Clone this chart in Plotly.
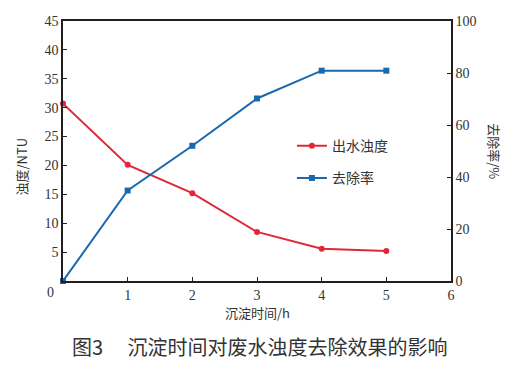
import plotly.graph_objects as go

time_h = [0, 1, 2, 3, 4, 5]
turbidity_ntu = [30.7, 20.1, 15.2, 8.5, 5.6, 5.2]
removal_pct = [0, 34.8, 52.0, 70.2, 80.9, 80.9]

x_ticks = [1, 2, 3, 4, 5, 6]
y1_ticks = [5, 10, 15, 20, 25, 30, 35, 40, 45]
y2_ticks = [0, 20, 40, 60, 80, 100]

RED = "#e0283a"
BLUE = "#1a68ae"
AX = "#231f20"
TXT = "#333333"
SERIF = "Liberation Serif"
CJK = "Noto Sans CJK SC"

fig = go.Figure()
fig.add_trace(go.Scatter(
    x=time_h, y=turbidity_ntu, name="出水浊度", mode="lines+markers",
    line=dict(color=RED, width=2), marker=dict(symbol="circle", size=6, color=RED),
    legendgroup="a", yaxis="y", cliponaxis=False))
fig.add_trace(go.Scatter(
    x=time_h, y=removal_pct, name="去除率", mode="lines+markers",
    line=dict(color=BLUE, width=2), marker=dict(symbol="square", size=6, color=BLUE),
    legendgroup="b", yaxis="y2", cliponaxis=False))

axis_common = dict(showline=True, linecolor=AX, linewidth=1.5, ticks="inside",
                   ticklen=4, tickwidth=1.2, tickcolor=AX, showgrid=False, zeroline=False,
                   automargin=False,
                   tickfont=dict(family=SERIF, size=14, color=TXT))

fig.update_layout(
    width=503, height=355,
    margin=dict(l=55, r=60, t=13, b=82, autoexpand=False),
    paper_bgcolor="white", plot_bgcolor="white",
    showlegend=True,
    legend=dict(x=0.59, y=0.58, xanchor="left", yanchor="top",
                bgcolor="rgba(0,0,0,0)", tracegroupgap=11,
                font=dict(family=CJK, size=14, color=TXT)),
    xaxis=dict(range=[0, 6], tickvals=x_ticks, mirror=True, **axis_common),
    yaxis=dict(range=[0, 45], tickvals=y1_ticks, **axis_common),
    yaxis2=dict(range=[0, 100], tickvals=y2_ticks, overlaying="y", side="right",
                **axis_common),
    annotations=[
        dict(text="0", x=-0.033, y=-0.045, xref="paper", yref="paper",
             showarrow=False, font=dict(family=SERIF, size=14, color=TXT),
             xanchor="center", yanchor="middle"),
        dict(text="沉淀时间/h", x=0.5, y=-0.123, xref="paper", yref="paper",
             showarrow=False, font=dict(family=CJK, size=13, color=TXT),
             xanchor="center", yanchor="middle"),
        dict(text="浊度/NTU", x=-0.106, y=0.44, xref="paper", yref="paper",
             showarrow=False, textangle=-90, font=dict(family=CJK, size=13, color=TXT),
             xanchor="center", yanchor="middle"),
        dict(text="去除率/%", x=1.113, y=0.5, xref="paper", yref="paper",
             showarrow=False, textangle=90, font=dict(family=CJK, size=13, color=TXT),
             xanchor="center", yanchor="middle"),
        dict(text="图3\u3000 沉淀时间对废水浊度去除效果的影响", x=0.507, y=-0.2535,
             xref="paper", yref="paper", showarrow=False,
             font=dict(family=CJK, size=20, color=TXT),
             xanchor="center", yanchor="middle"),
    ],
)

fig.write_html("out.html")
